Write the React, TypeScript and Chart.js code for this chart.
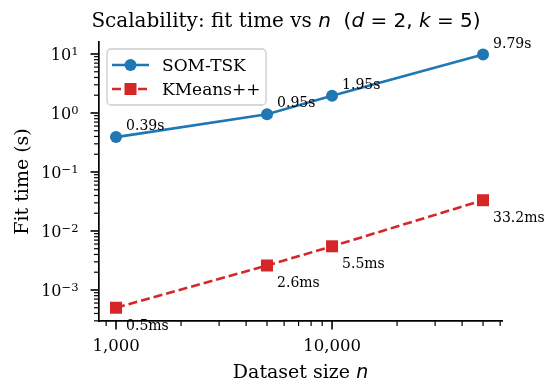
import React, { useEffect, useRef } from "react";
import { Chart, registerables } from "chart.js";

Chart.register(...registerables);

// ---- data ----
const datasetSizes = [1000, 5000, 10000, 50000];
const somTskTimes = [0.39, 0.95, 1.95, 9.79];
const kmeansTimes = [0.0005, 0.0026, 0.0055, 0.0332];
const seriesNames = ["SOM-TSK", "KMeans++"];
const xMajorTicks = [1000, 10000];
const xTickLabels = ["1,000", "10,000"];
const yMajorTicks = [1e-3, 1e-2, 1e-1, 1, 10];
const yTickExponents = ["\u22123", "\u22122", "\u22121", "0", "1"];

const BLUE = "#1f77b4";
const RED = "#d62728";
const SERIF = '"DejaVu Serif", serif';
const SANS = '"DejaVu Sans", sans-serif';

type Seg = { t: string; f: string };

function drawSegs(ctx: CanvasRenderingContext2D, segs: Seg[], cx: number, y: number) {
  let total = 0;
  for (const s of segs) {
    ctx.font = s.f;
    total += ctx.measureText(s.t).width;
  }
  let x = cx - total / 2;
  ctx.textAlign = "left";
  for (const s of segs) {
    ctx.font = s.f;
    ctx.fillText(s.t, x, y);
    x += ctx.measureText(s.t).width;
  }
}

const decor = {
  id: "decor",
  afterDraw(chart: any) {
    const ctx: CanvasRenderingContext2D = chart.ctx;
    const xs = chart.scales.x;
    const ys = chart.scales.y;
    const area = chart.chartArea;
    ctx.save();
    ctx.fillStyle = "#000";
    ctx.strokeStyle = "#000";
    ctx.textBaseline = "alphabetic";

    // y ticks
    const yMin = ys.min, yMax = ys.max;
    for (let k = -5; k <= 2; k++) {
      for (let m = 1; m <= 9; m++) {
        const v = m * Math.pow(10, k);
        if (v < yMin || v > yMax) continue;
        const py = ys.getPixelForValue(v);
        const major = m === 1;
        ctx.lineWidth = major ? 1.6 : 1.2;
        ctx.beginPath();
        ctx.moveTo(area.left, py);
        ctx.lineTo(area.left - (major ? 8.5 : 5), py);
        ctx.stroke();
      }
    }
    // x ticks
    const xMin = xs.min, xMax = xs.max;
    for (let k = 1; k <= 5; k++) {
      for (let m = 1; m <= 9; m++) {
        const v = m * Math.pow(10, k);
        if (v < xMin || v > xMax) continue;
        const px = xs.getPixelForValue(v);
        const major = m === 1;
        ctx.lineWidth = major ? 1.6 : 1.2;
        ctx.beginPath();
        ctx.moveTo(px, area.bottom);
        ctx.lineTo(px, area.bottom + (major ? 8.5 : 5));
        ctx.stroke();
      }
    }

    // y tick labels (10^k)
    yMajorTicks.forEach((v, i) => {
      const py = ys.getPixelForValue(v);
      const baseFont = `16px ${SERIF}`;
      const expFont = `11.5px ${SERIF}`;
      ctx.font = expFont;
      const we = ctx.measureText(yTickExponents[i]).width;
      ctx.font = baseFont;
      const wb = ctx.measureText("10").width;
      const right = area.left - 20.5;
      ctx.textAlign = "left";
      ctx.font = baseFont;
      ctx.fillText("10", right - we - wb, py + 6.5);
      ctx.font = expFont;
      ctx.fillText(yTickExponents[i], right - we, py + 1.2);
    });

    // x tick labels
    ctx.font = `16.5px ${SERIF}`;
    ctx.textAlign = "center";
    xMajorTicks.forEach((v, i) => {
      ctx.fillText(xTickLabels[i], xs.getPixelForValue(v), area.bottom + 30);
    });

    // x axis title
    drawSegs(
      ctx,
      [
        { t: "Dataset size ", f: `19px ${SERIF}` },
        { t: "n", f: `oblique 19px ${SANS}` },
      ],
      (area.left + area.right) / 2,
      378
    );

    // y axis title
    ctx.save();
    ctx.translate(28.3, (area.top + area.bottom) / 2);
    ctx.rotate(-Math.PI / 2);
    ctx.font = `19px ${SERIF}`;
    ctx.textAlign = "center";
    ctx.fillText("Fit time (s)", 0, 0);
    ctx.restore();

    // title
    const tf = `20px ${SERIF}`;
    const mf = `20px ${SANS}`;
    const mi = `oblique 20px ${SANS}`;
    drawSegs(
      ctx,
      [
        { t: "Scalability: fit time vs ", f: tf },
        { t: "n", f: mi },
        { t: "  ", f: tf },
        { t: "(", f: mf },
        { t: "d", f: mi },
        { t: " = 2, ", f: mf },
        { t: "k", f: mi },
        { t: " = 5)", f: mf },
      ],
      286,
      27
    );

    // data labels
    ctx.font = `14px ${SERIF}`;
    ctx.textAlign = "left";
    datasetSizes.forEach((n, i) => {
      const px = xs.getPixelForValue(n);
      const py1 = ys.getPixelForValue(somTskTimes[i]);
      ctx.fillText(somTskTimes[i].toFixed(2) + "s", px + 10, py1 - 7);
      const py2 = ys.getPixelForValue(kmeansTimes[i]);
      ctx.fillText((kmeansTimes[i] * 1000).toFixed(1) + "ms", px + 10, py2 + 22);
    });

    // legend
    const lx = 107, ly = 49, lw = 159, lh = 56, r = 4;
    ctx.beginPath();
    ctx.moveTo(lx + r, ly);
    ctx.arcTo(lx + lw, ly, lx + lw, ly + lh, r);
    ctx.arcTo(lx + lw, ly + lh, lx, ly + lh, r);
    ctx.arcTo(lx, ly + lh, lx, ly, r);
    ctx.arcTo(lx, ly, lx + lw, ly, r);
    ctx.closePath();
    ctx.fillStyle = "rgba(255,255,255,0.8)";
    ctx.fill();
    ctx.strokeStyle = "#cccccc";
    ctx.lineWidth = 1.3;
    ctx.stroke();

    const rows = [65, 89];
    // SOM-TSK
    ctx.strokeStyle = BLUE;
    ctx.fillStyle = BLUE;
    ctx.lineWidth = 2.6;
    ctx.beginPath();
    ctx.moveTo(112, rows[0]);
    ctx.lineTo(149, rows[0]);
    ctx.stroke();
    ctx.beginPath();
    ctx.arc(130.5, rows[0], 6, 0, Math.PI * 2);
    ctx.fill();
    // KMeans++
    ctx.strokeStyle = RED;
    ctx.fillStyle = RED;
    ctx.setLineDash([9, 4]);
    ctx.beginPath();
    ctx.moveTo(112, rows[1]);
    ctx.lineTo(149, rows[1]);
    ctx.stroke();
    ctx.setLineDash([]);
    ctx.fillRect(124.5, rows[1] - 6, 12, 12);

    ctx.fillStyle = "#000";
    ctx.font = `17px ${SERIF}`;
    ctx.fillText(seriesNames[0], 162, rows[0] + 6);
    ctx.fillText(seriesNames[1], 162, rows[1] + 6);

    ctx.restore();
  },
};

export default function App() {
  const ref = useRef<HTMLCanvasElement>(null);
  useEffect(() => {
    document.body.style.margin = "0";
    const canvas = ref.current!;
    const chart = new Chart(canvas, {
      type: "line",
      data: {
        datasets: [
          {
            label: seriesNames[0],
            data: datasetSizes.map((x, i) => ({ x, y: somTskTimes[i] })),
            borderColor: BLUE,
            backgroundColor: BLUE,
            borderWidth: 2.6,
            pointStyle: "circle",
            pointRadius: 6,
            pointHoverRadius: 6,
            pointBorderWidth: 0,
            pointBackgroundColor: BLUE,
            tension: 0,
          },
          {
            label: seriesNames[1],
            data: datasetSizes.map((x, i) => ({ x, y: kmeansTimes[i] })),
            borderColor: RED,
            backgroundColor: RED,
            borderWidth: 2.6,
            borderDash: [9, 4],
            pointStyle: "rect",
            pointRadius: 8.5,
            pointHoverRadius: 8.5,
            pointBorderWidth: 0,
            pointBackgroundColor: RED,
            tension: 0,
          },
        ],
      },
      options: {
        responsive: false,
        animation: false,
        events: [],
        layout: { padding: { top: 42, right: 46, left: 0, bottom: 0 } },
        plugins: {
          legend: { display: false },
          title: { display: false },
          tooltip: { enabled: false },
        },
        scales: {
          x: {
            type: "logarithmic",
            min: 834,
            max: 61200,
            grid: { display: false },
            border: { display: true, color: "#000", width: 1.7 },
            ticks: { display: false },
            afterBuildTicks: (s: any) => {
              s.ticks = xMajorTicks.map((v) => ({ value: v }));
            },
            afterFit: (s: any) => {
              s.height = 61;
            },
          },
          y: {
            type: "logarithmic",
            min: 2.98e-4,
            max: 15.96,
            grid: { display: false },
            border: { display: true, color: "#000", width: 1.7 },
            ticks: { display: false },
            afterBuildTicks: (s: any) => {
              s.ticks = yMajorTicks.map((v) => ({ value: v }));
            },
            afterFit: (s: any) => {
              s.width = 99;
            },
          },
        },
      } as any,
      plugins: [decor],
    });
    return () => chart.destroy();
  }, []);
  return (
    <div style={{ width: 548, height: 382 }}>
      <canvas ref={ref} width={548} height={382} style={{ display: "block" }} />
    </div>
  );
}
